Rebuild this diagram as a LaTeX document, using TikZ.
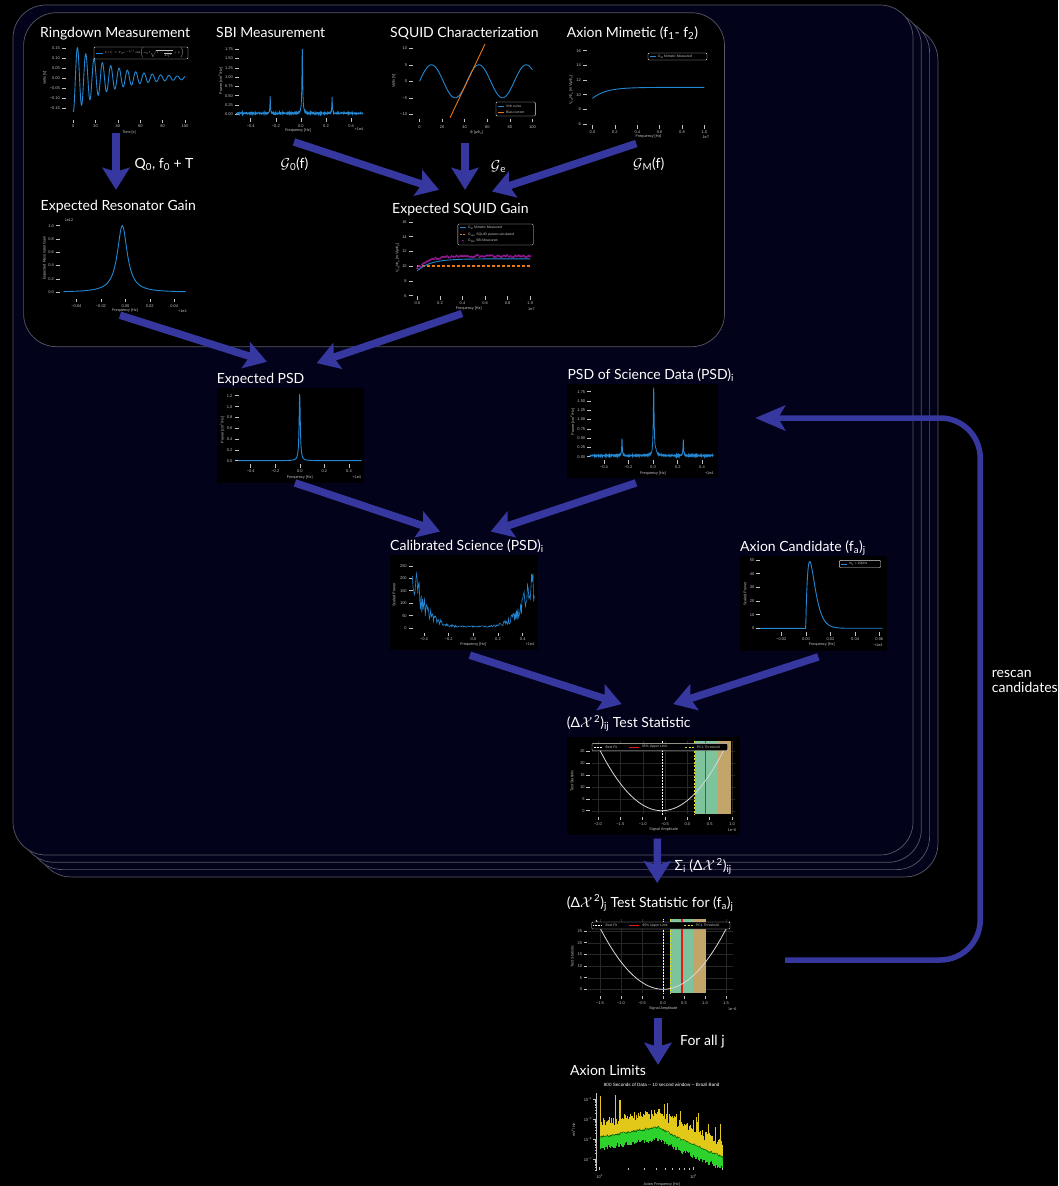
\documentclass[tikz,border=0pt]{standalone}
\usepackage{fontspec}
\setmainfont{Lato}
\newfontfamily\tickfont{Liberation Sans}
\usepackage{graphicx}
\usepackage{tikz}
\usetikzlibrary{arrows.meta,positioning,calc}
\definecolor{deepNavy}   {RGB}{  2,  2, 26}
\definecolor{edgeGray}   {RGB}{ 88, 88,100}
\definecolor{flowBlue}   {RGB}{ 55, 55,160}
\definecolor{curveBlue}  {RGB}{ 35,135,210}
\definecolor{biasOrange} {RGB}{235,120, 20}
\definecolor{sbiMagenta} {RGB}{150, 25,150}
\definecolor{tickGray}   {RGB}{195,195,195}
\definecolor{gridGray}   {RGB}{ 38, 38, 38}
\definecolor{limitRed}   {RGB}{230, 25, 25}
\definecolor{pclYellow}  {RGB}{225,225, 40}
\definecolor{bandGreen}  {RGB}{125,195,155}
\definecolor{bandTan}    {RGB}{195,165,105}
\definecolor{brazilGreen}{RGB}{ 45,210, 45}
\definecolor{brazilGold} {RGB}{225,200, 25}

\begin{document}
\begin{tikzpicture}[x=1pt,y=-1pt,
    title/.style={font=\fontsize{14}{15}\selectfont,text=white,inner sep=0pt,anchor=base west},
    plotbox/.style={fill=black,draw=none,inner sep=0pt},
    tk/.style={tickGray,line width=0.45pt},
    tl/.style={font=\tickfont\fontsize{4}{4.5}\selectfont,text=tickGray,inner sep=0.4pt},
    ylab/.style={tl,anchor=east},
    xlab/.style={tl,anchor=north},
    axlab/.style={tl,font=\tickfont\fontsize{3.8}{4.2}\selectfont},
    leg/.style={tl,anchor=west,font=\tickfont\fontsize{3.4}{4}\selectfont},
    legbox/.style={fill=black,draw=tickGray!55,line width=0.4pt,rounded corners=1pt},
    gridline/.style={gridGray,line width=0.2pt},
    curve/.style={curveBlue,line width=0.9pt},
    flow/.style={flowBlue,line width=7.5pt,-{Stealth[length=22pt,width=27pt,inset=4pt]}},
    rescanflow/.style={flowBlue,line width=5.5pt,rounded corners=40pt,-{Stealth[length=30pt,width=25pt,inset=7pt]}}]
  \useasboundingbox (0,0) rectangle (1058,1186);
  \fill[black] (0,0) rectangle (1058,1186);

  % stacked loop frames and the calibration group
  \foreach \k in {3,2,1,0}
    \filldraw[fill=deepNavy,draw=edgeGray,line width=0.7pt,rounded corners=33pt]
      (13+8.3*\k,5+7.3*\k) rectangle (913+8.3*\k,855+7.3*\k);
  \filldraw[fill=black,draw=edgeGray,line width=0.7pt,rounded corners=33pt]
    (23.6,12.7) rectangle (724.5,346.7);

  % plot frames
  \node[plotbox,minimum width=152pt,minimum height=94pt]   (ringplot) at (114,89) {};
  \node[plotbox,minimum width=144pt,minimum height=90pt]   (sbiplot)  at (300,89) {};
  \node[plotbox,minimum width=142pt,minimum height=92pt]   (sqcplot)  at (466,90) {};
  \node[plotbox,minimum width=147pt,minimum height=96pt]   (amplot)   at (638.5,92) {};
  \node[plotbox,minimum width=152pt,minimum height=99pt]   (rgplot)   at (114,265.5) {};
  \node[plotbox,minimum width=144pt,minimum height=99pt]   (sgplot)   at (464,264.5) {};
  \node[plotbox,minimum width=147.6pt,minimum height=95pt] (epsdplot) at (290.5,435.2) {};
  \node[plotbox,minimum width=150.4pt,minimum height=94pt] (psdplot)  at (642.5,431.3) {};
  \node[plotbox,minimum width=147.7pt,minimum height=95pt] (calplot)  at (463.85,602.5) {};
  \node[plotbox,minimum width=146.7pt,minimum height=95pt] (candplot) at (813.35,603.2) {};
  \node[plotbox,minimum width=172.7pt,minimum height=97.7pt] (tsijplot) at (653.65,786.15) {};
  \node[plotbox,minimum width=171pt,minimum height=100pt]  (tsjplot)  at (652.5,962) {};
  \node[plotbox,minimum width=165pt,minimum height=108pt]  (limplot)  at (652.5,1132) {};

  % titles
  \node[title] (ringtitle) at (40,37.3)    {Ringdown Measurement};
  \node[title] (sbititle)  at (216,37.3)   {SBI Measurement};
  \node[title] (sqctitle)  at (390,37.3)   {SQUID Characterization};
  \node[title] (amtitle)   at (566.6,37.3) {Axion Mimetic (f\textsubscript{1}- f\textsubscript{2})};
  \node[title] (rgtitle)   at (40.5,210.5) {Expected Resonator Gain};
  \node[title] (sgtitle)   at (392,213)    {Expected SQUID Gain};
  \node[title] (epsdtitle) at (216.7,383)  {Expected PSD};
  \node[title] (psdtitle)  at (567.3,379.5) {PSD of Science Data (PSD)\textsubscript{i}};
  \node[title] (caltitle)  at (390,550.5)  {Calibrated Science (PSD)\textsubscript{i}};
  \node[title] (candtitle) at (740,551)    {Axion Candidate (f\textsubscript{a})\textsubscript{j}};
  \node[title] (tsijtitle) at (566.7,727.5) {(Δ$\mathcal{X}$\textsuperscript{\,2})\textsubscript{ij} Test Statistic};
  \node[title] (tsjtitle)  at (566.7,907)  {(Δ$\mathcal{X}$\textsuperscript{\,2})\textsubscript{j} Test Statistic for (f\textsubscript{a})\textsubscript{j}};
  \node[title] (limtitle)  at (570,1075.5) {Axion Limits};

  % arrow labels
  \node[title] (q0label)  at (134.5,168.6) {Q\textsubscript{0}, f\textsubscript{0} + T};
  \node[title] (g0label)  at (280.4,168.6) {$\mathcal{G}$\textsubscript{0}(f)};
  \node[title] (gelabel)  at (490.7,170)   {$\mathcal{G}$\textsubscript{e}};
  \node[title] (gmlabel)  at (633,168.6)   {$\mathcal{G}$\textsubscript{M}(f)};
  \node[title] (sumlabel) at (674.3,870.5) {Σ\textsubscript{i} (Δ$\mathcal{X}$\textsuperscript{\,2})\textsubscript{ij}};
  \node[title] (alllabel) at (680,1045.5)  {For all j};
  \node[title,anchor=west,align=left] (rescantext) at (991.7,681) {rescan\\candidates};

  % ringdown
  \foreach \lab/\y [count=\i] in {0.15/48.3,0.10/58.3,0.05/68.2,0.00/78,−0.05/88,−0.10/98,−0.15/108}{
    \node[ylab] (ringy\i) at (60.5,\y) {\lab};
    \draw[tk] (62,\y) -- ++(4,0);
  }
  \foreach \lab/\x [count=\i] in {0/73.3,20/95.6,40/117.9,60/140.3,80/162.6,100/185}{
    \draw[tk] (\x,119.5) -- ++(0,3.5);
    \node[xlab] (ringx\i) at (\x,124.5) {\lab};
  }
  \node[axlab] (ringxl) at (129,133) {Time [s]};
  \node[axlab,rotate=90] (ringyl) at (45,78) {Volts [V]};
  \draw[curve] plot[domain=0:100,samples=500,smooth]
    ({73.3+1.117*\x},{78+34*exp(-\x/33)*cos(48.32*\x)});
  \draw[legbox] (94,47) rectangle (188,59);
  \draw[curve] (96,53) -- (103,53);
  \node[leg,font=\fontsize{5}{6}\selectfont] (ringleg) at (104,53)
    {\scalebox{0.6}{$V(t)=V_0e^{-t/\tau}\cos\!\left(\omega_0t\sqrt{1-\frac{1}{4Q^2}}+\phi\right)$}};

  % SBI
  \foreach \lab [count=\i from 0] in {0.00,0.25,0.50,0.75,1.00,1.25,1.50,1.75}{
    \pgfmathsetmacro\yy{114.3-9.3*\i}
    \node[ylab] (sbiy\i) at (233.5,\yy) {\lab};
    \draw[tk] (235,\yy) -- ++(4,0);
  }
  \foreach \lab/\x [count=\i] in {−0.4/250.7,−0.2/275.8,0.0/300.9,0.2/326,0.4/351.1}{
    \draw[tk] (\x,118.3) -- ++(0,3.5);
    \node[xlab] (sbix\i) at (\x,124) {\lab};
  }
  \node[axlab] (sbiexp) at (359,129.5) {+1e4};
  \node[axlab] (sbixl) at (298,131) {Frequency [Hz]};
  \node[axlab,rotate=90] (sbiyl) at (220.5,81) {Power [cm\textsuperscript{2}/Hz]};
  \draw[curve,line width=0.8pt] plot[domain=236.5:363,samples=700]
    (\x,{113.3-0.7*rand-37.2*(1.75/(1+min(abs(\x-302.3)/0.45,100)^2)
      +0.46/(1+min(abs(\x-270.2)/0.3,100)^2)+0.46/(1+min(abs(\x-332.1)/0.3,100)^2))});

  % SQUID characterization
  \foreach \lab/\y [count=\i] in {10/48.3,5/64.8,0/81.3,−5/97.8,−10/114.3}{
    \node[ylab] (sqcy\i) at (407.6,\y) {\lab};
    \draw[tk] (408.8,\y) -- ++(4,0);
  }
  \foreach \lab/\x [count=\i] in {0/419.6,20/442.2,40/464.7,60/487.3,80/509.8,100/532.4}{
    \draw[tk] (\x,118.5) -- ++(0,3.5);
    \node[xlab] (sqcx\i) at (\x,125) {\lab};
  }
  \node[axlab] (sqcxl) at (476.6,132.5) {Φ [μΦ\textsubscript{0}]};
  \node[axlab,rotate=90] (sqcyl) at (394,81) {Volts [V]};
  \draw[curve] plot[domain=0:100,samples=200,smooth]
    ({419.6+1.128*\x},{81.3-16.5*sin(8.571*\x)});
  \draw[biasOrange,line width=0.9pt] (450.1,117.6) -- (485,44);
  \draw[legbox] (496,102) rectangle (535.4,116);
  \draw[curve] (498,106) -- (504,106);
  \node[leg] (sqcleg1) at (505.5,106) {V/Φ curve};
  \draw[biasOrange,line width=0.9pt] (498,112) -- (504,112);
  \node[leg] (sqcleg2) at (505.5,112) {Bias current};

  % axion mimetic
  \foreach \lab/\y [count=\i] in {16/50.7,14/65.3,12/80,10/94.7,8/109.3,6/124}{
    \node[ylab] (amy\i) at (581.5,\y) {\lab};
    \draw[tk] (582.8,\y) -- ++(4,0);
  }
  \foreach \lab/\x [count=\i] in {0.0/592.5,0.2/614.9,0.4/637.3,0.6/659.6,0.8/682,1.0/704.4}{
    \draw[tk] (\x,125) -- ++(0,3.5);
    \node[xlab] (amx\i) at (\x,130) {\lab};
  }
  \node[axlab] (amexp) at (705.7,137) {1e7};
  \node[axlab] (amxl) at (648.6,137) {Frequency [Hz]};
  \node[axlab,rotate=90] (amyl) at (571,90) {V\textsubscript{out}/Φ\textsubscript{a} [mV/μΦ\textsubscript{0}]};
  \draw[curve] plot[domain=0:1,samples=120,smooth]
    ({592.5+111.9*\x},{124-7.33*(5-1.5*exp(-\x/0.12))});
  \draw[legbox] (648,53) rectangle (707,60);
  \draw[curve] (650,56.5) -- (656,56.5);
  \node[leg] (amleg) at (657.5,56.5) {G\textsubscript{M} Mimetic Measured};

  % expected resonator gain
  \foreach \lab/\y [count=\i] in {1.0/225.7,0.8/239,0.6/252.3,0.4/265.6,0.2/279,0.0/292.3}{
    \node[ylab] (rgy\i) at (54.5,\y) {\lab};
    \draw[tk] (55.7,\y) -- ++(4,0);
  }
  \foreach \lab/\x [count=\i] in {−0.04/76.4,−0.02/100.9,0.00/125.4,0.02/149.8,0.04/174.3}{
    \draw[tk] (\x,298.5) -- ++(0,3.5);
    \node[xlab] (rgx\i) at (\x,304) {\lab};
  }
  \node[axlab] (rgscale) at (69,220) {1e12};
  \node[axlab] (rgexp) at (182.4,311) {+1e4};
  \node[axlab] (rgxl) at (125,311) {Frequency [Hz]};
  \node[axlab,rotate=90] (rgyl) at (44.6,258) {Expected Resonator Gain};
  \draw[curve] plot[domain=63.5:185.8,samples=300]
    (\x,{292.3-66.6/(1+((\x-122.3)/6)^2)});

  % expected SQUID gain
  \foreach \lab/\y [count=\i] in {16/222,14/236.7,12/251.4,10/266.1,8/280.9,6/295.7}{
    \node[ylab] (sgy\i) at (407.3,\y) {\lab};
    \draw[tk] (408.6,\y) -- ++(4,0);
  }
  \foreach \lab/\x [count=\i] in {0.0/417.4,0.2/440,0.4/462.5,0.6/485.1,0.8/507.6,1.0/530.2}{
    \draw[tk] (\x,296) -- ++(0,3.5);
    \node[xlab] (sgx\i) at (\x,301.5) {\lab};
  }
  \node[axlab] (sgexp) at (531.5,309) {1e7};
  \node[axlab] (sgxl) at (468.7,309) {Frequency [Hz]};
  \node[axlab,rotate=90] (sgyl) at (397.6,258) {V\textsubscript{out}/Φ\textsubscript{a} [mV/μΦ\textsubscript{0}]};
  \draw[biasOrange,line width=1.3pt,dash pattern=on 3pt off 2pt] (417.4,266.1) -- (530.2,266.1);
  \draw[curve] plot[domain=0:1,samples=120,smooth]
    ({417.4+112.8*\x},{295.7-7.37*(5-1.6*exp(-\x/0.12))});
  \fill[sbiMagenta] plot[domain=0:1,samples=70,only marks,mark=*,mark size=0.9pt]
    ({417.4+112.8*\x},{295.7-7.37*(5.35-1.7*exp(-\x/0.1)+0.15*rand)});
  \draw[legbox] (457.8,224) rectangle (533.2,245);
  \draw[curve] (460,227.7) -- (466,227.7);
  \node[leg] (sgleg1) at (467.5,227.7) {G\textsubscript{M} Mimetic Measured};
  \draw[biasOrange,line width=1pt,dash pattern=on 2pt off 1pt] (460,234.3) -- (466,234.3);
  \node[leg] (sgleg2) at (467.5,234.3) {G\textsubscript{calc} SQUID param calculated};
  \fill[sbiMagenta] (463,240.7) circle (0.9pt);
  \node[leg] (sgleg3) at (467.5,240.7) {G\textsubscript{SBI} SBI Measured};

  % expected PSD
  \foreach \lab/\y [count=\i] in {1.2/395.7,1.0/406.7,0.8/417.3,0.6/428.3,0.4/439,0.2/450,0.0/460.7}{
    \node[ylab] (epy\i) at (233,\y) {\lab};
    \draw[tk] (234.5,\y) -- ++(4,0);
  }
  \foreach \lab/\x [count=\i] in {−0.4/250.7,−0.2/275.3,0.0/299.85,0.2/324.4,0.4/349}{
    \draw[tk] (\x,464.3) -- ++(0,3.5);
    \node[xlab] (epx\i) at (\x,469.5) {\lab};
  }
  \node[axlab] (epexp) at (356.7,477.3) {+1e4};
  \node[axlab] (epxl) at (299.7,477.3) {Frequency [Hz]};
  \node[axlab,rotate=90] (epyl) at (222,430) {Power [cm\textsuperscript{2}/Hz]};
  \draw[curve] plot[domain=238.3:361.7,samples=600]
    (\x,{460.7-66.7/(1+min(abs(\x-299.7)/0.7,100)^2)});

  % PSD of science data
  \foreach \lab [count=\i from 0] in {0.00,0.25,0.50,0.75,1.00,1.25,1.50,1.75}{
    \pgfmathsetmacro\yy{456.7-9.285*\i}
    \node[ylab] (psdy\i) at (585.8,\yy) {\lab};
    \draw[tk] (587.2,\yy) -- ++(4,0);
  }
  \foreach \lab/\x [count=\i] in {−0.4/604,−0.2/628.3,0.0/653,0.2/677.7,0.4/702}{
    \draw[tk] (\x,460) -- ++(0,3.5);
    \node[xlab] (psdx\i) at (\x,465.5) {\lab};
  }
  \node[axlab] (psdexp) at (709.3,473.3) {+1e4};
  \node[axlab] (psdxl) at (653,473.3) {Frequency [Hz]};
  \node[axlab,rotate=90] (psdyl) at (572.7,422) {Power [cm\textsuperscript{2}/Hz]};
  \draw[curve,line width=0.8pt] plot[domain=590:713.3,samples=700]
    (\x,{455.6-0.7*rand-37.14*(1.8/(1+min(abs(\x-653.7)/0.5,100)^2)
      +0.46/(1+min(abs(\x-622)/0.35,100)^2)+0.44/(1+min(abs(\x-683.3)/0.35,100)^2)
      +0.1/(1+min(abs(\x-655.6)/1.2,100)^2))});

  % calibrated science
  \foreach \lab/\y [count=\i] in {250/566,200/578.3,150/590.7,100/603.3,50/615.7,0/628}{
    \node[ylab] (caly\i) at (407.3,\y) {\lab};
    \draw[tk] (408.5,\y) -- ++(4,0);
  }
  \foreach \lab/\x [count=\i] in {−0.4/424,−0.2/448.7,0.0/473.35,0.2/498,0.4/522.7}{
    \draw[tk] (\x,632.7) -- ++(0,3.5);
    \node[xlab] (calx\i) at (\x,637.5) {\lab};
  }
  \node[axlab] (calexp) at (530,644.7) {+1e4};
  \node[axlab] (calxl) at (473.3,644.7) {Frequency [Hz]};
  \node[axlab,rotate=90] (calyl) at (394,595) {Scaled Power};
  \pgfmathsetseed{11}
  \draw[curveBlue,line width=0.6pt] plot[domain=412.3:534.3,samples=180]
    (\x,{628-0.248*(6+200*(abs(\x-473.3)/61)^4)*(1+0.5*rand)});

  % axion candidate
  \foreach \lab/\y [count=\i] in {50/560.3,40/573.7,30/587.3,20/601,10/614.7,0/628.3}{
    \node[ylab] (cdy\i) at (755,\y) {\lab};
    \draw[tk] (756.2,\y) -- ++(4,0);
  }
  \foreach \lab/\x [count=\i] in {−0.02/781.3,0.00/805.9,0.02/830.5,0.04/855.1,0.06/879.3}{
    \draw[tk] (\x,632.3) -- ++(0,3.5);
    \node[xlab] (cdx\i) at (\x,637.5) {\lab};
  }
  \node[axlab] (cdexp) at (878.3,645) {+1e4};
  \node[axlab] (cdxl) at (821.7,645) {Frequency [Hz]};
  \node[axlab,rotate=90] (cdyl) at (745,594) {Scaled Power};
  \draw[curve] plot[domain=760:882.7,samples=400]
    (\x,{628.3-66.64*(max(\x-805.7,0)/4)*exp(1-max(\x-805.7,0)/4)});
  \draw[legbox] (839.3,560.3) rectangle (880.7,567.7);
  \draw[curve] (841,564) -- (847,564);
  \node[leg] (cdleg) at (848.5,564) {m\textsubscript{a} = 10kHz};

  % test statistic per segment
  \foreach \x in {598,620.3,642.7,665,687.4,709.7,732.1}
    \draw[gridline] (\x,740.7) -- (\x,814.3);
  \foreach \y in {751,763,775,787,799,810.7}
    \draw[gridline] (592,\y) -- (735,\y);
  \fill[bandGreen] (694.7,740.7) rectangle (718,814.3);
  \fill[bandTan] (718,740.7) rectangle (731,814.3);
  \draw[limitRed,line width=1.2pt] (705.7,740.7) -- (705.7,814.3);
  \draw[pclYellow,line width=0.9pt,dash pattern=on 2pt off 1.5pt] (694.7,740.7) -- (694.7,814.3);
  \draw[white,line width=0.7pt,dash pattern=on 0.6pt off 0.9pt] (662,740.7) -- (662,814.3);
  \draw[white!85!black,line width=0.8pt] plot[domain=-2.03:0.82,samples=120,smooth]
    ({687.3+44.7*\x},{810.7-31.55*(\x+0.57)*(\x+0.57)});
  \foreach \lab/\y [count=\i] in {25/751,20/763,15/775,10/787,5/799,0/810.7}{
    \node[ylab] (tsiy\i) at (585.3,\y) {\lab};
    \draw[tk] (586.3,\y) -- ++(3.5,0);
  }
  \foreach \lab/\x [count=\i] in {−2.0/598,−1.5/620.3,−1.0/642.7,−0.5/665,0.0/687.4,0.5/709.7,1.0/732.1}{
    \draw[tk] (\x,816.7) -- ++(0,3.5);
    \node[xlab] (tsix\i) at (\x,822) {\lab};
  }
  \node[axlab] (tsiexp) at (732,830) {1e−6};
  \node[axlab] (tsixl) at (663.7,830) {Signal Amplitude};
  \node[axlab,rotate=90] (tsiyl) at (572,781) {Test Statistic};
  \draw[legbox] (592,743.3) rectangle (727.7,750.7);
  \draw[white,line width=0.6pt,dash pattern=on 0.6pt off 0.9pt] (593.5,747) -- (602,747);
  \node[leg] (tsileg1) at (605,747) {Best Fit};
  \draw[limitRed,line width=1pt] (628.7,747) -- (638.7,747);
  \node[leg] (tsileg2) at (641.5,747) {95\% Upper Limit};
  \draw[pclYellow,line width=0.9pt,dash pattern=on 2pt off 1.5pt] (685.3,747) -- (694.7,747);
  \node[leg] (tsileg3) at (696.5,747) {PCL Threshold};

  % combined test statistic
  \foreach \x in {600,621,642,663,684,705,726}
    \draw[gridline] (\x,919.3) -- (\x,993.3);
  \foreach \y in {931,942.7,954.3,966,977.7,989.3}
    \draw[gridline] (588,\y) -- (733,\y);
  \fill[bandGreen] (670,919.3) rectangle (693.3,993.3);
  \fill[bandTan] (693.3,919.3) rectangle (706.3,993.3);
  \draw[limitRed,line width=1.2pt] (682,919.3) -- (682,993.3);
  \draw[pclYellow,line width=0.9pt,dash pattern=on 2pt off 1.5pt] (670,919.3) -- (670,993.3);
  \draw[white,line width=0.7pt,dash pattern=on 0.6pt off 0.9pt] (663.3,919.3) -- (663.3,993.3);
  \draw[white!85!black,line width=0.8pt] plot[domain=-1.6:1.58,samples=120,smooth]
    ({663.3+42*\x},{989.3-27.06*\x*\x});
  \foreach \lab/\y [count=\i] in {25/931,20/942.7,15/954.3,10/966,5/977.7,0/989.3}{
    \node[ylab] (tsjy\i) at (582.7,\y) {\lab};
    \draw[tk] (583.5,\y) -- ++(3.5,0);
  }
  \foreach \lab/\x [count=\i] in {−1.5/600,−1.0/621,−0.5/642,0.0/663,0.5/684,1.0/705,1.5/726}{
    \draw[tk] (\x,995.7) -- ++(0,3.5);
    \node[xlab] (tsjx\i) at (\x,1000.8) {\lab};
  }
  \node[axlab] (tsjexp) at (732.3,1008.7) {1e−6};
  \node[axlab] (tsjxl) at (663.3,1008.7) {Signal Amplitude};
  \node[axlab,rotate=90] (tsjyl) at (572.3,956.7) {Test Statistic};
  \draw[legbox] (591.7,922) rectangle (730,929);
  \draw[white,line width=0.6pt,dash pattern=on 0.6pt off 0.9pt] (593.3,925.5) -- (601.7,925.5);
  \node[leg] (tsjleg1) at (605,925.5) {Best Fit};
  \draw[limitRed,line width=1pt] (629.3,925.5) -- (639.3,925.5);
  \node[leg] (tsjleg2) at (641.8,925.5) {95\% Upper Limit};
  \draw[pclYellow,line width=0.9pt,dash pattern=on 2pt off 1.5pt] (684,925.5) -- (693.3,925.5);
  \node[leg] (tsjleg3) at (695.5,925.5) {PCL Threshold};

  % axion limits
  \node[tl,text=white,font=\tickfont\fontsize{4.6}{5}\selectfont] (limsub) at (661.7,1085)
    {800 Seconds of Data -- 10 second window -- Brazil Band};
  \pgfmathsetseed{5}
  \foreach \x in {600,600.6,...,723}{
    \pgfmathsetmacro\bandmid{\x<658 ? 1137-(\x-600)*10/58 : (\x<678 ? 1127+(\x-658)*11/20 : 1138+(\x-678)*19/45)}
    \pgfmathsetmacro\bandlow{\bandmid+9+5*rnd}
    \pgfmathsetmacro\bandtop{\bandmid-9-10*rnd-(rnd>0.9 ? 24*rnd : 0)}
    \draw[brazilGold,line width=0.7pt] (\x,\bandtop) -- (\x,\bandmid);
    \draw[brazilGreen,line width=0.7pt] (\x,\bandmid) -- (\x,\bandlow);
  }
  \draw[brazilGold,line width=0.8pt] (600.6,1096) -- (600.6,1137);
  \draw[black!65!green,line width=0.5pt] plot[domain=600:723,samples=150]
    (\x,{(\x<658 ? 1137-(\x-600)*10/58 : (\x<678 ? 1127+(\x-658)*11/20 : 1138+(\x-678)*19/45))+1.2*rand});
  \draw[tk] (596.7,1093.3) -- (596.7,1170);
  \foreach \lab/\y [count=\i] in {4/1099.3,5/1119.3,6/1139.3,7/1159.3}{
    \draw[tk] (596.7,\y) -- ++(-3.5,0);
    \node[ylab] (limy\i) at (592.5,\y) {10\textsuperscript{−\lab}};
  }
  \foreach \d in {1119.3,1139.3,1159.3}
    \foreach \k in {2,...,9}{
      \pgfmathsetmacro\yy{\d-20*log10(\k)}
      \draw[tk,line width=0.3pt] (596.7,\yy) -- ++(-2,0);
    }
  \foreach \k in {3,...,9}{
    \pgfmathsetmacro\yy{1179.3-20*log10(\k)}
    \draw[tk,line width=0.3pt] (596.7,\yy) -- ++(-2,0);
  }
  \foreach \lab/\x [count=\i] in {5/599.7,6/693.3}{
    \draw[tk] (\x,1166.5) -- ++(0,3.5);
    \node[xlab] (limx\i) at (\x,1173.5) {10\textsuperscript{\lab}};
  }
  \foreach \k in {2,...,9}{
    \pgfmathsetmacro\xx{599.7+93.6*log10(\k)}
    \draw[tk,line width=0.3pt] (\xx,1168) -- ++(0,2);
  }
  \draw[tk,line width=0.3pt] (721.9,1168) -- ++(0,2);
  \node[axlab] (limxl) at (661.7,1184.5) {Axion Frequency [Hz]};
  \node[axlab,rotate=90] (limyl) at (573.3,1130) {mV\textsuperscript{2}/Hz};

  % flow arrows
  \draw[flow] ($(ringplot.south)+(2,-3)$) -- ($(rgplot.north)+(2,-26)$);
  \draw[flow] ($(sbiplot.south)+(-6,7.7)$) -- ($(sgplot.north)+(-25,-25)$);
  \draw[flow] ($(sqcplot.south)+(-1,7)$) -- ($(sgplot.north)+(1,-25)$);
  \draw[flow] ($(amplot.south)+(-2.2,3.3)$) -- ($(sgplot.north)+(28,-23.3)$);
  \draw[flow] ($(rgplot.south)+(6,0)$) -- ($(epsdplot.north)+(-23.5,-25.7)$);
  \draw[flow] ($(sgplot.south)+(-2,-0.7)$) -- ($(epsdplot.north)+(26.2,-24.4)$);
  \draw[flow] ($(epsdplot.south)+(4.5,0)$) -- ($(calplot.north)+(-23.85,-23.3)$);
  \draw[flow] ($(psdplot.south)+(-6.5,4.4)$) -- ($(calplot.north)+(26.85,-23.3)$);
  \draw[flow] ($(calplot.south)+(6,5)$) -- ($(tsijplot.north)+(-32,-33)$);
  \draw[flow] ($(candplot.south)+(5,6)$) -- ($(tsijplot.north)+(19.65,-33)$);
  \draw[flow] ($(tsijplot.south)+(3.65,3.3)$) -- ($(tsjplot.north)+(4.8,-28.7)$);
  \draw[flow] ($(tsjplot.south)+(5.5,6)$) -- ($(limplot.north)+(5.5,-13)$);
  \draw[rescanflow] ($(tsjplot.east)+(47,-2)$) -- ++(195,0) |- ($(psdplot.east)+(37.3,-13.3)$);
\end{tikzpicture}
\end{document}
